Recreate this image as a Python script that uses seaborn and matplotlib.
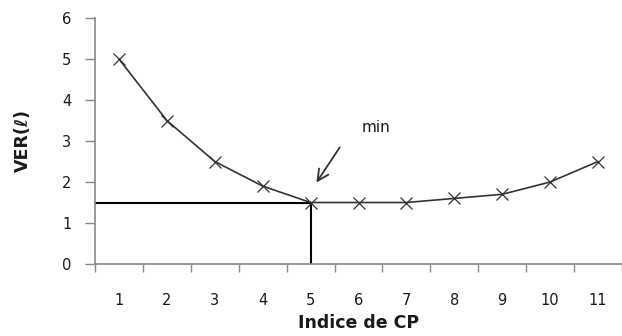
import matplotlib
matplotlib.use("Agg")
import matplotlib.pyplot as plt
import seaborn as sns
import pandas as pd

# data
indices = [1, 2, 3, 4, 5, 6, 7, 8, 9, 10, 11]
ver_values = [5.0, 3.5, 2.5, 1.9, 1.5, 1.5, 1.5, 1.6, 1.7, 2.0, 2.5]
y_ticks = [0, 1, 2, 3, 4, 5, 6]
min_index = 5
min_value = 1.5

sns.set_theme(style="white")
plt.rcParams['font.family'] = ['DejaVu Sans']

fig = plt.figure(figsize=(6.22, 3.36), dpi=100)
ax = fig.add_axes([95/622, 72/336, 1 - 95/622, (264-18)/336])

df = pd.DataFrame({"idx": indices, "ver": ver_values})
sns.lineplot(data=df, x="idx", y="ver", ax=ax, color="#333333", linewidth=1.2,
             marker="x", markersize=8, markeredgewidth=0.9, markeredgecolor="#333333")

# reference lines at minimum
ax.plot([0.5, min_index], [min_value, min_value], color="black", linewidth=1.5, zorder=1)
ax.plot([min_index, min_index], [0, min_value], color="black", linewidth=1.5, zorder=1)

# arrow + annotation
ax.annotate("", xy=(5.09, 1.93), xytext=(5.64, 2.90),
            arrowprops=dict(arrowstyle="->", color="#333333", lw=1.3,
                            mutation_scale=20))
ax.text(6.36, 3.34, "min", ha="center", va="center", fontsize=11, color="#1a1a1a")

ax.set_xlim(0.5, 0.5 + (622 - 95) / 48.6)
ax.set_ylim(0, 6)
ax.set_yticks(y_ticks)
ax.set_xticks(indices)
ax.set_xticks([i + 0.5 for i in [0] + indices], minor=True)
ax.tick_params(axis="x", which="major", bottom=True, length=0, pad=21, labelsize=10.5,
               colors="#1a1a1a")
ax.tick_params(axis="x", which="minor", bottom=True, length=6, width=1, color="#888888",
               direction="out")
ax.tick_params(axis="y", which="major", left=True, length=7, width=1, color="#888888",
               direction="out", labelsize=10.5, labelcolor="#1a1a1a", pad=10)

for s in ["top", "right"]:
    ax.spines[s].set_visible(False)
for s in ["left", "bottom"]:
    ax.spines[s].set_color("#888888")
    ax.spines[s].set_linewidth(1.2)

ax.set_xlabel("Indice de CP", fontsize=12.5, fontweight="bold", color="#1a1a1a", labelpad=4)
ax.set_ylabel("VER(ℓ)", fontsize=12.5, fontweight="bold", color="#1a1a1a", labelpad=22)

fig.savefig("out.png", dpi=100, facecolor="white")
